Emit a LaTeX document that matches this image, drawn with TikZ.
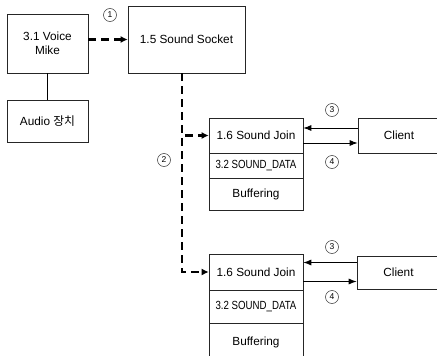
\documentclass[tikz,border=0pt]{standalone}
\usepackage{graphicx}
\usepackage{fontspec}
\setmainfont{Liberation Sans}
\newfontfamily\kr{Noto Sans CJK KR}
\usetikzlibrary{arrows.meta,calc}
\begin{document}
\begin{tikzpicture}[x=1pt,y=-1pt,
  box/.style={draw=black!85,line width=0.6pt,inner sep=0pt,align=center,font=\fontsize{11.8}{14}\selectfont},
  thickdash/.style={line width=2.4pt,dash pattern=on 8pt off 5pt,-{Latex[length=7pt,width=7pt]}},
  thinarrow/.style={line width=0.9pt,-{Latex[length=8pt,width=6pt]}},
  num/.style={circle,draw=black!80,line width=0.5pt,inner sep=0.5pt,minimum size=13pt,font=\fontsize{8.5}{9}\selectfont}]
\useasboundingbox (0,0) rectangle (437,356);
\clip (0,0) rectangle (437,356);
\fill[white] (0,0) rectangle (437,356);

\node[box,minimum width=81pt,minimum height=59pt] (voice) at (47.5,43.5) {3.1 Voice\\Mike};
\node[box,minimum width=81pt,minimum height=42pt] (audio) at (47.5,121) {Audio {\kr 장치}};
\node[box,minimum width=117pt,minimum height=67pt] (socket) at (186.5,39.5) {1.5 Sound Socket};

\node[box,minimum width=94pt,minimum height=35pt] (join1) at (256,135.5) {1.6 Sound Join};
\node[box,minimum width=94pt,minimum height=25pt] (data1) at (256,165.5) {\scalebox{0.82}[1]{3.2 SOUND\_DATA}};
\node[box,minimum width=94pt,minimum height=32pt] (buf1) at (256,194) {Buffering};
\node[box,minimum width=82pt,minimum height=35pt] (client1) at (399,135.5) {Client};

\node[box,minimum width=94pt,minimum height=36pt] (join2) at (256,272) {1.6 Sound Join};
\node[box,minimum width=94pt,minimum height=33pt] (data2) at (256,306.5) {\scalebox{0.82}[1]{3.2 SOUND\_DATA}};
\node[box,minimum width=94pt,minimum height=39pt] (buf2) at (256,342.5) {Buffering};
\node[box,minimum width=83pt,minimum height=33pt] (client2) at (398.5,272.5) {Client};

\node[num] (c1) at (110,15) {1};
\node[num] (c2) at (164,160) {2};
\node[num] (c3) at (332,110) {3};
\node[num] (c4) at (332,162) {4};
\node[num] (c3b) at (332,247) {3};
\node[num] (c4b) at (332,297) {4};

\draw[line width=0.7pt] (voice.south) -- (audio.north);
\draw[thickdash] (voice.east |- socket.west) -- (socket.west);
\coordinate (spine) at ($(socket.south)+(-4.5,0)$);
\draw[thickdash] (spine) |- (join1.west);
\draw[thickdash] (spine) |- (join2.west);

\draw[thinarrow] ([yshift=7.5pt]client1.west) -- ([yshift=7.5pt]join1.east);
\draw[thinarrow] ([yshift=-7.5pt]join1.east) -- ([yshift=-7.5pt]client1.west);
\draw[thinarrow] ([yshift=10pt]client2.west) -- ([yshift=10pt]join2.east |- client2.west);
\draw[thinarrow] ([yshift=-9pt]join2.east |- client2.west) -- ([yshift=-9pt]client2.west);
\end{tikzpicture}
\end{document}
